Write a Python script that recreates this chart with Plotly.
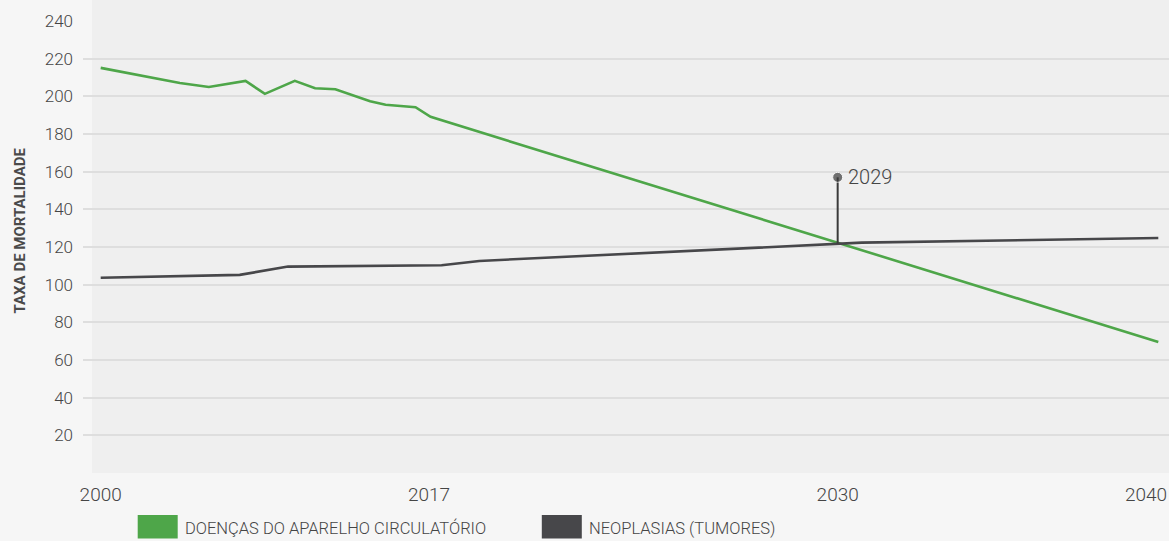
import numpy as np
import plotly.graph_objects as go

# ---------------- data ----------------
GREEN_NAME = "DOENÇAS DO APARELHO CIRCULATÓRIO"
GREEN_YEARS = [2000, 2004.1, 2005.6, 2007.5, 2008.5, 2010.05, 2011.1, 2012.15,
               2013.95, 2014.75, 2016.3, 2017.05, 2040]
GREEN_VALUES = [215.1, 207.1, 205.0, 208.2, 201.3, 208.2, 204.3, 203.8,
                197.4, 195.5, 194.2, 189.1, 69.6]

DARK_NAME = "NEOPLASIAS (TUMORES)"
DARK_YEARS = [2000, 2007.2, 2009.7, 2017.4, 2018.6, 2030.0, 2030.75, 2040]
DARK_VALUES = [103.7, 105.2, 109.6, 110.3, 112.6, 121.8, 122.3, 124.8]

CROSS_YEAR = 2030.0
CROSS_VALUES = [121.8, 157.0]
CROSS_LABEL = "2029"

X_TICK_YEARS = [2000, 2017, 2030, 2040]
Y_TICKS = list(range(0, 241, 20))
Y_TITLE = "TAXA DE MORTALIDADE"

# piecewise time scale of the original infographic (years -> axis units)
SCALE_YEARS = [2000, 2017, 2030, 2040]
SCALE_UNITS = [0.0, 10.26, 23.03, 33.05]


def tx(years):
    return np.interp(np.asarray(years, dtype=float), SCALE_YEARS, SCALE_UNITS)


GREEN = "#4ea649"
DARK = "#47474a"
TEXT = "#454545"
FONT = "Roboto, Liberation Sans, sans-serif"

fig = go.Figure()

fig.add_trace(go.Scatter(x=tx(GREEN_YEARS), y=GREEN_VALUES, mode="lines",
                         line=dict(color=GREEN, width=2.6), name=GREEN_NAME,
                         showlegend=False, hoverinfo="skip"))
fig.add_trace(go.Scatter(x=tx(DARK_YEARS), y=DARK_VALUES, mode="lines",
                         line=dict(color=DARK, width=2.6), name=DARK_NAME,
                         showlegend=False, hoverinfo="skip"))
fig.add_trace(go.Scatter(x=tx([CROSS_YEAR, CROSS_YEAR]), y=CROSS_VALUES,
                         mode="lines+markers",
                         line=dict(color="#3a3a3a", width=2),
                         marker=dict(size=[0, 10], color="#3a3a3a"),
                         showlegend=False, hoverinfo="skip"))

fig.add_annotation(x=tx([CROSS_YEAR])[0], y=CROSS_VALUES[1], text=CROSS_LABEL,
                   showarrow=False, xanchor="left", yanchor="middle", xshift=8,
                   font=dict(family=FONT, size=20, color=TEXT, weight=300))

# last x label sits right-aligned at the edge
fig.add_annotation(x=1, xref="paper", y=0, yref="paper", yshift=-21,
                   text=str(X_TICK_YEARS[-1]), showarrow=False,
                   xanchor="right", yanchor="middle",
                   font=dict(family=FONT, size=19, color=TEXT, weight=300))

# y-axis title
fig.add_annotation(x=21 / 1169 - 83 / 1086, xref="paper", y=(473 - 231) / 452, yref="paper",
                   text=Y_TITLE, showarrow=False, textangle=-90,
                   xanchor="center", yanchor="middle",
                   font=dict(family=FONT, size=15, color="#4a4a4a", weight=700))

# legend (drawn)
legend_items = [(GREEN_NAME, GREEN, 137.7), (DARK_NAME, DARK, 541.8)]
shapes = [dict(type="rect", xref="paper", yref="paper", x0=9 / 1086, x1=1,
               y0=0, y1=1.05, fillcolor="#efefef", line=dict(width=0), layer="below")]
for name, color, px in legend_items:
    x0 = (px - 83) / 1086
    x1 = (px + 40 - 83) / 1086
    shapes.append(dict(type="rect", xref="paper", yref="paper", x0=x0, x1=x1,
                       y0=-(515 - 473) / 452, y1=-(538.5 - 473) / 452,
                       fillcolor=color, line=dict(width=0)))
    fig.add_annotation(x=x1, xref="paper", xshift=5, y=-(528 - 473) / 452,
                       yref="paper", text=name, showarrow=False, xanchor="left",
                       yanchor="middle", font=dict(family=FONT, size=16.5, color=TEXT, weight=300))

fig.update_layout(
    width=1169, height=541,
    margin=dict(l=83, r=0, t=21, b=68),
    paper_bgcolor="#f6f6f6", plot_bgcolor="rgba(0,0,0,0)",
    shapes=shapes,
    font=dict(family=FONT, color=TEXT),
    xaxis=dict(range=[-0.553, 33.384], showgrid=False, zeroline=False,
               tickvals=tx(X_TICK_YEARS[:-1]), ticktext=[str(y) for y in X_TICK_YEARS[:-1]],
               tickfont=dict(size=19, color=TEXT, weight=300), ticks="", showline=False,
               ticklabelstandoff=8, fixedrange=True),
    yaxis=dict(range=[0, 240], tickvals=Y_TICKS,
               ticktext=["" if v == 0 else str(v) for v in Y_TICKS],
               showgrid=True, gridcolor="#dedede", gridwidth=2, zeroline=False,
               tickfont=dict(size=17, color=TEXT, weight=300), ticks="", ticklabelstandoff=9,
               fixedrange=True),
)

fig.write_html("out.html", config={"displayModeBar": False, "staticPlot": True},
               post_script="document.body.style.margin='0';")
